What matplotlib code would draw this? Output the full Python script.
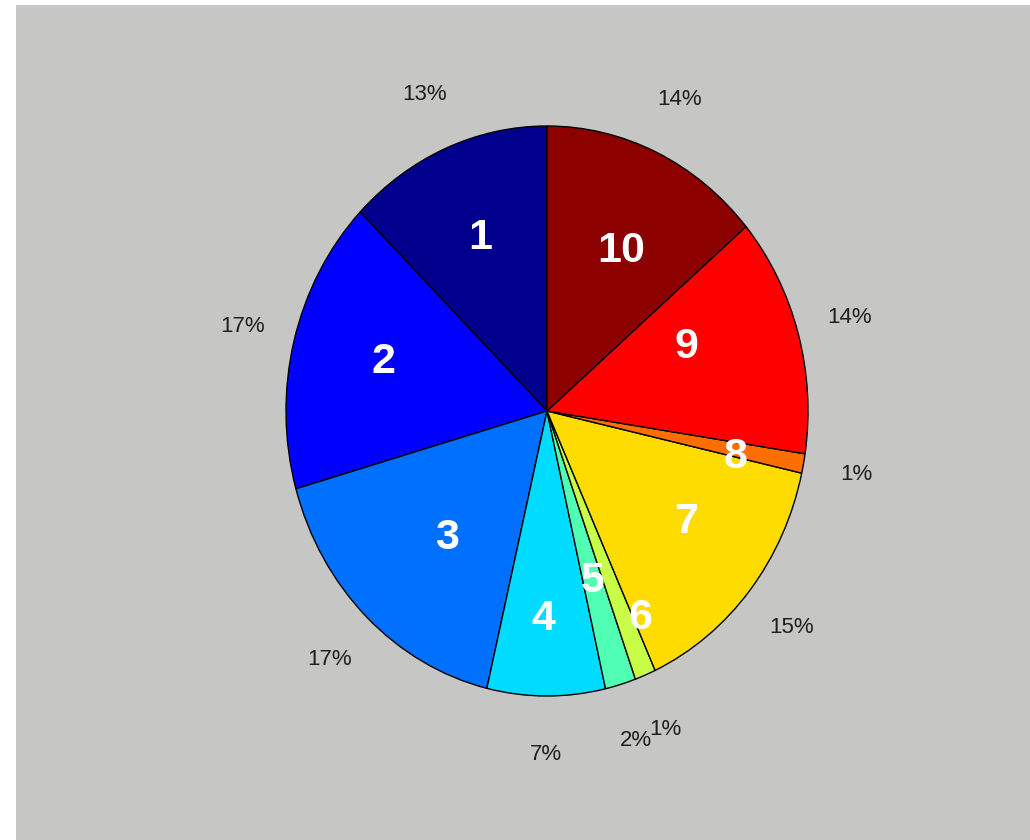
import numpy as np
import matplotlib
matplotlib.use('Agg')
import matplotlib.pyplot as plt
from matplotlib.patches import Rectangle

# slice shares (percent)
values = [12.7, 16.7, 16.9, 7.3, 1.9, 1.3, 14.7, 1.1, 13.6, 13.8]
names = ['1', '2', '3', '4', '5', '6', '7', '8', '9', '10']
colors = ['#00008c', '#0000ff', '#0070ff', '#00dcff', '#50ffb4',
          '#c8ff46', '#ffdc00', '#ff6e00', '#ff0000', '#8c0000']

# where the white numbers sit inside each slice (radius, angle tweak in deg)
num_r = [0.66, 0.65, 0.59, 0.73, 0.62, 0.81, 0.66, 0.74, 0.58, 0.63]
num_dang = [0, -1, 3, -1, 0, 4, 3, -2, 7, -2]

plt.rcParams['font.family'] = ['Liberation Sans', 'DejaVu Sans']

fig = plt.figure(figsize=(10.3, 8.4), dpi=100)
fig.patch.set_facecolor('white')
fig.patches.append(Rectangle((16 / 1030, 0), 1 - 16 / 1030, 835 / 840,
                             transform=fig.transFigure, facecolor='#c6c7c5',
                             edgecolor='none', zorder=-10))

ax = fig.add_axes([0, 0, 1, 1])
ax.patch.set_alpha(0)

wedges, texts, autotexts = ax.pie(
    values, colors=colors, startangle=90, counterclock=True,
    autopct=lambda p: f'{p:.0f}%', pctdistance=1.205,
    wedgeprops=dict(edgecolor='black', linewidth=1.0),
    textprops=dict(fontsize=16, color='#1e1e1e'))

for w, n, r, da in zip(wedges, names, num_r, num_dang):
    ang = np.deg2rad((w.theta1 + w.theta2) / 2 + da)
    ax.text(r * np.cos(ang), r * np.sin(ang), n, ha='center', va='center',
            color='white', fontsize=31, fontweight='bold')

ax.set_aspect('auto')
ax.set_xlim(-547 / 261, (1030 - 547) / 261)
ax.set_ylim((411 - 840) / 285, 411 / 285)
ax.axis('off')

plt.savefig('out.png', dpi=100)
